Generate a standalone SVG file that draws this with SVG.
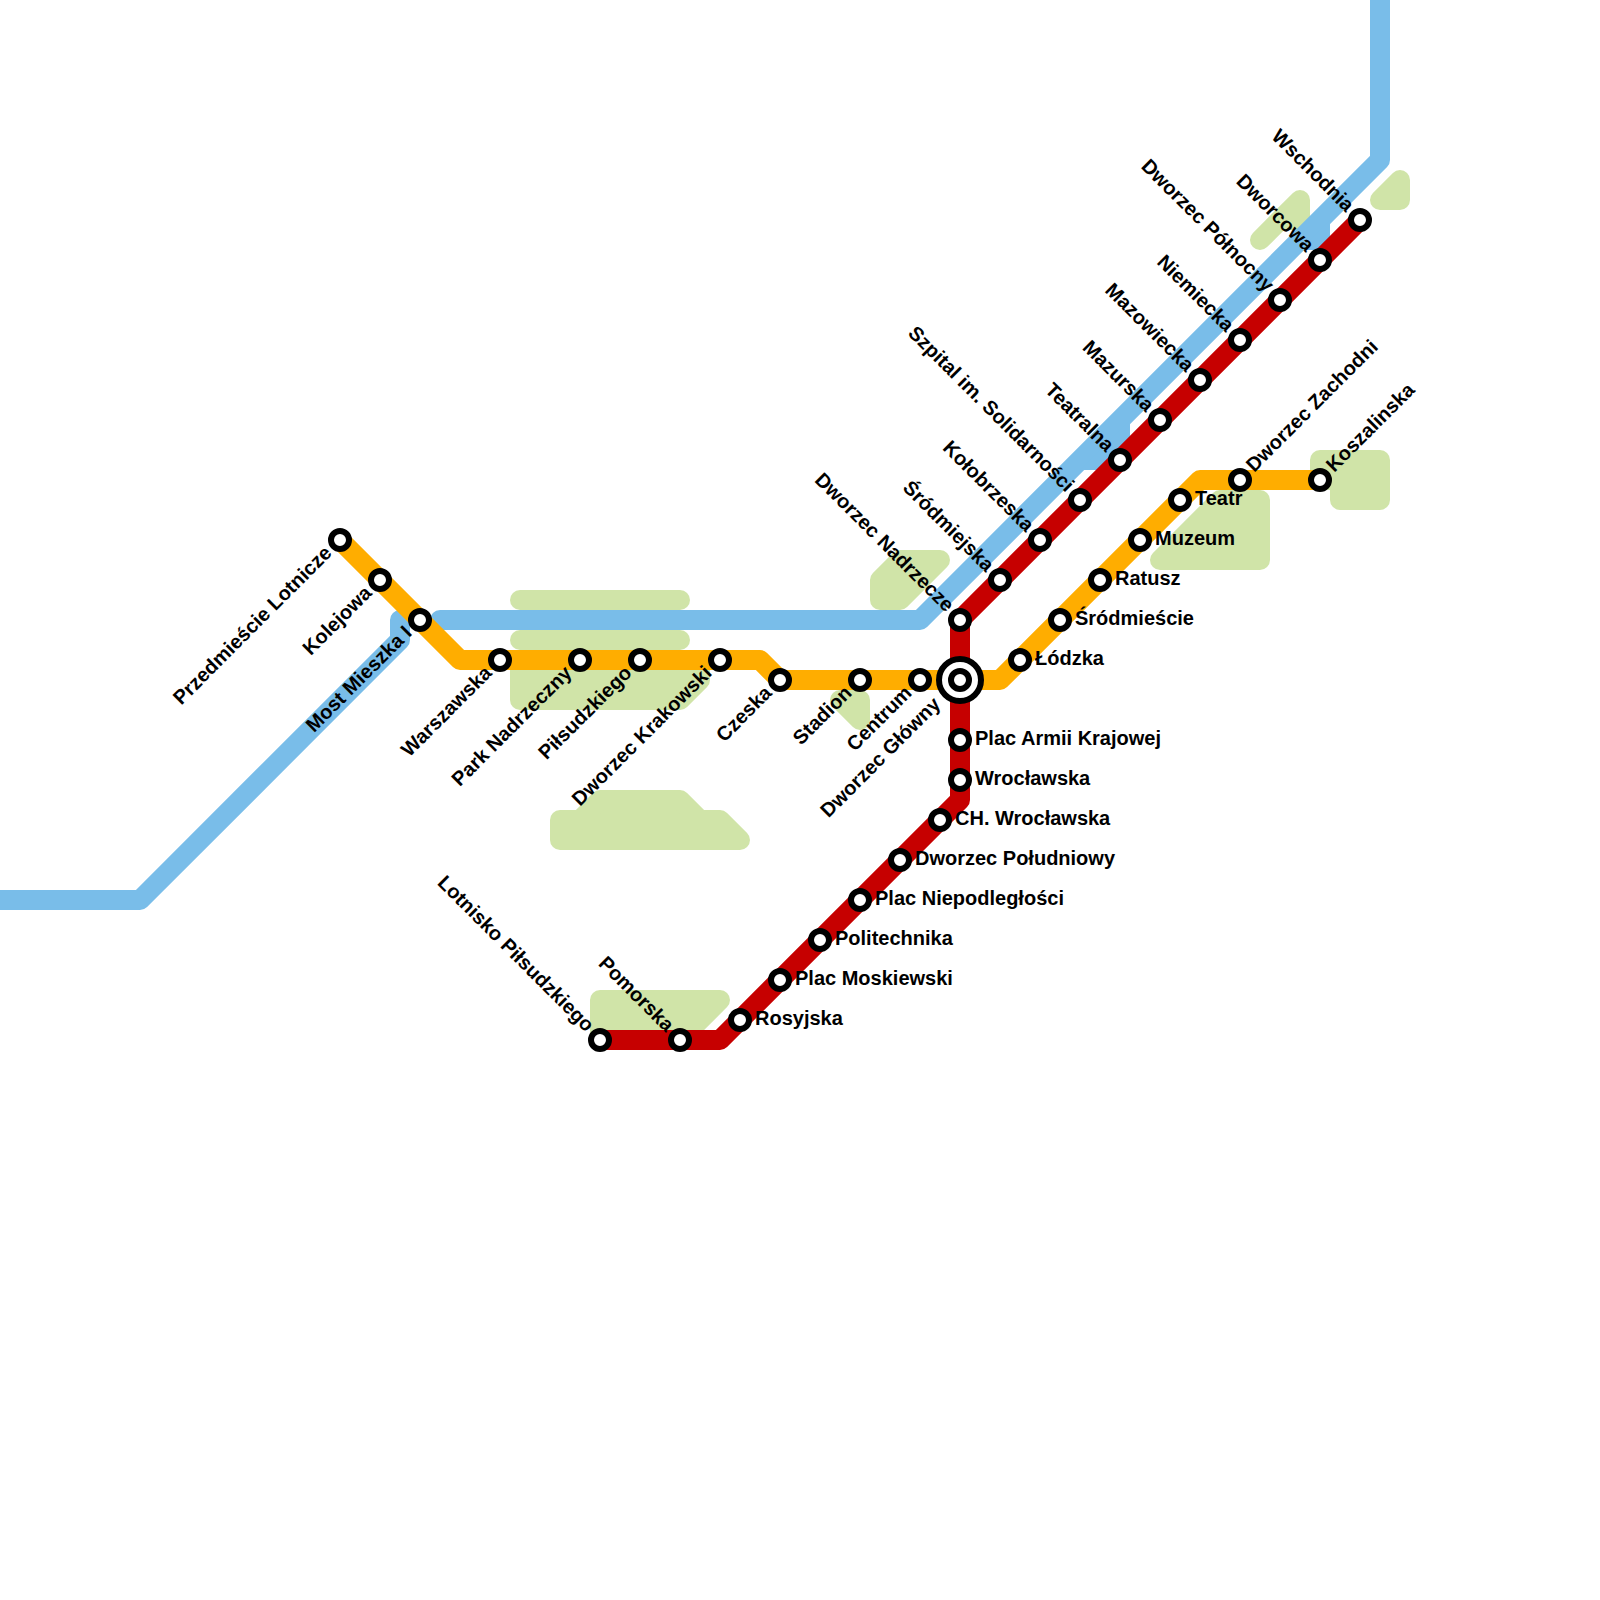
<svg xmlns="http://www.w3.org/2000/svg" width="1600" height="1600" viewBox="0 0 1600 1600">
<style>
.park{fill:#d0e4a8;stroke:#d0e4a8;stroke-width:20;stroke-linejoin:round;stroke-linecap:round}
.line{fill:none;stroke-width:20;stroke-linejoin:round;stroke-linecap:round}
.blue{stroke:#79bde9}.orange{stroke:#ffad00}.red{stroke:#c60000}
.water{fill:#79bde9;stroke:none}
.st{fill:#fff;stroke:#000;stroke-width:6}
.big{fill:#fff;stroke:#000;stroke-width:6}
text{font-family:"Liberation Sans",Arial,sans-serif;font-size:20px;font-weight:700;fill:#000}
.e{text-anchor:end}
</style>
<defs>
<circle id="s" r="9" class="st"/>
</defs>
<g id="parks">
<path class="park" d="M520 600H680"/>
<path class="park" d="M520 640H680"/>
<path class="park" d="M520 660H700V680L680 700H520Z"/>
<path class="park" d="M560 820H580L600 800H680L700 820H720L740 840H560Z"/>
<path class="park" d="M600 1000H720L680 1040H600Z"/>
<path class="park" d="M880 580L900 560H940L900 600H880Z"/>
<path class="park" d="M840 700H860V720Z"/>
<path class="park" d="M1160 560L1220 500H1260V560Z"/>
<path class="park" d="M1320 460H1380V500H1340V480H1320Z"/>
<path class="park" d="M1260 240L1300 200V220H1280Z"/>
<path class="park" d="M1380 200L1400 180V200Z"/>
</g>
<g id="connectors">
<path class="line blue" d="M-10 900H140L400 640V620"/>
<path class="line blue" d="M440 620H920L1380 160V-10"/>
<path class="water" d="M1130 420V445L1105 470H1080Z"/>
<path class="water" d="M1330 220V245L1325 250H1300Z"/>
<path class="line orange" d="M340 540L460 660H760L780 680H1000L1200 480H1320"/>
<path class="line red" d="M600 1040H720L960 800V620L1360 220"/>
</g>
<g id="stations">
<g id="przedmiescie-lotnicze"><use href="#s" x="340" y="540"/><text transform="translate(340 540) rotate(-45)" x="-15" y="5" class="e">Przedmieście Lotnicze</text></g>
<g id="kolejowa"><use href="#s" x="380" y="580"/><text transform="translate(380 580) rotate(-45)" x="-15" y="5" class="e">Kolejowa</text></g>
<g id="most-mieszka"><use href="#s" x="420" y="620"/><text transform="translate(420 620) rotate(-45)" x="-15" y="5" class="e">Most Mieszka I</text></g>
<g id="warszawska"><use href="#s" x="500" y="660"/><text transform="translate(500 660) rotate(-45)" x="-15" y="5" class="e">Warszawska</text></g>
<g id="park-nadrzeczny"><use href="#s" x="580" y="660"/><text transform="translate(580 660) rotate(-45)" x="-15" y="5" class="e">Park Nadrzeczny</text></g>
<g id="pilsudzkiego"><use href="#s" x="640" y="660"/><text transform="translate(640 660) rotate(-45)" x="-15" y="5" class="e">Piłsudzkiego</text></g>
<g id="dworzec-krakowski"><use href="#s" x="720" y="660"/><text transform="translate(720 660) rotate(-45)" x="-15" y="5" class="e">Dworzec Krakowski</text></g>
<g id="czeska"><use href="#s" x="780" y="680"/><text transform="translate(780 680) rotate(-45)" x="-15" y="5" class="e">Czeska</text></g>
<g id="stadion"><use href="#s" x="860" y="680"/><text transform="translate(860 680) rotate(-45)" x="-15" y="5" class="e">Stadion</text></g>
<g id="centrum"><use href="#s" x="920" y="680"/><text transform="translate(920 680) rotate(-45)" x="-15" y="5" class="e">Centrum</text></g>
<g id="dworzec-glowny"><circle class="big" cx="960" cy="680" r="21"/><use href="#s" x="960" y="680"/><text transform="translate(960 680) rotate(-45)" x="-31" y="5" class="e">Dworzec Główny</text></g>
<g id="lodzka"><use href="#s" x="1020" y="660"/><text x="1035" y="665">Łódzka</text></g>
<g id="srodmiescie"><use href="#s" x="1060" y="620"/><text x="1075" y="625">Śródmieście</text></g>
<g id="ratusz"><use href="#s" x="1100" y="580"/><text x="1115" y="585">Ratusz</text></g>
<g id="muzeum"><use href="#s" x="1140" y="540"/><text x="1155" y="545">Muzeum</text></g>
<g id="teatr"><use href="#s" x="1180" y="500"/><text x="1195" y="505">Teatr</text></g>
<g id="dworzec-zachodni"><use href="#s" x="1240" y="480"/><text transform="translate(1240 480) rotate(-45)" x="15" y="5">Dworzec Zachodni</text></g>
<g id="koszalinska"><use href="#s" x="1320" y="480"/><text transform="translate(1320 480) rotate(-45)" x="15" y="5">Koszalinska</text></g>
<g id="lotnisko"><use href="#s" x="600" y="1040"/><text transform="translate(600 1040) rotate(45)" x="-15" y="5" class="e">Lotnisko Piłsudzkiego</text></g>
<g id="pomorska"><use href="#s" x="680" y="1040"/><text transform="translate(680 1040) rotate(45)" x="-15" y="5" class="e">Pomorska</text></g>
<g id="rosyjska"><use href="#s" x="740" y="1020"/><text x="755" y="1025">Rosyjska</text></g>
<g id="plac-moskiewski"><use href="#s" x="780" y="980"/><text x="795" y="985">Plac Moskiewski</text></g>
<g id="politechnika"><use href="#s" x="820" y="940"/><text x="835" y="945">Politechnika</text></g>
<g id="plac-niepodleglosci"><use href="#s" x="860" y="900"/><text x="875" y="905">Plac Niepodległości</text></g>
<g id="dworzec-poludniowy"><use href="#s" x="900" y="860"/><text x="915" y="865">Dworzec Południowy</text></g>
<g id="ch-wroclawska"><use href="#s" x="940" y="820"/><text x="955" y="825">CH. Wrocławska</text></g>
<g id="wroclawska"><use href="#s" x="960" y="780"/><text x="975" y="785">Wrocławska</text></g>
<g id="plac-armii"><use href="#s" x="960" y="740"/><text x="975" y="745">Plac Armii Krajowej</text></g>
<g id="dworzec-nadrzecze"><use href="#s" x="960" y="620"/><text transform="translate(960 620) rotate(45)" x="-15" y="5" class="e">Dworzec Nadrzecze</text></g>
<g id="srodmiejska"><use href="#s" x="1000" y="580"/><text transform="translate(1000 580) rotate(45)" x="-15" y="5" class="e">Śródmiejska</text></g>
<g id="kolobrzeska"><use href="#s" x="1040" y="540"/><text transform="translate(1040 540) rotate(45)" x="-15" y="5" class="e">Kołobrzeska</text></g>
<g id="szpital"><use href="#s" x="1080" y="500"/><text transform="translate(1080 500) rotate(45)" x="-15" y="5" class="e">Szpital im. Solidarności</text></g>
<g id="teatralna"><use href="#s" x="1120" y="460"/><text transform="translate(1120 460) rotate(45)" x="-15" y="5" class="e">Teatralna</text></g>
<g id="mazurska"><use href="#s" x="1160" y="420"/><text transform="translate(1160 420) rotate(45)" x="-15" y="5" class="e">Mazurska</text></g>
<g id="mazowiecka"><use href="#s" x="1200" y="380"/><text transform="translate(1200 380) rotate(45)" x="-15" y="5" class="e">Mazowiecka</text></g>
<g id="niemiecka"><use href="#s" x="1240" y="340"/><text transform="translate(1240 340) rotate(45)" x="-15" y="5" class="e">Niemiecka</text></g>
<g id="dworzec-polnocny"><use href="#s" x="1280" y="300"/><text transform="translate(1280 300) rotate(45)" x="-15" y="5" class="e">Dworzec Północny</text></g>
<g id="dworcowa"><use href="#s" x="1320" y="260"/><text transform="translate(1320 260) rotate(45)" x="-15" y="5" class="e">Dworcowa</text></g>
<g id="wschodnia"><use href="#s" x="1360" y="220"/><text transform="translate(1360 220) rotate(45)" x="-15" y="5" class="e">Wschodnia</text></g>
</g>
</svg>
